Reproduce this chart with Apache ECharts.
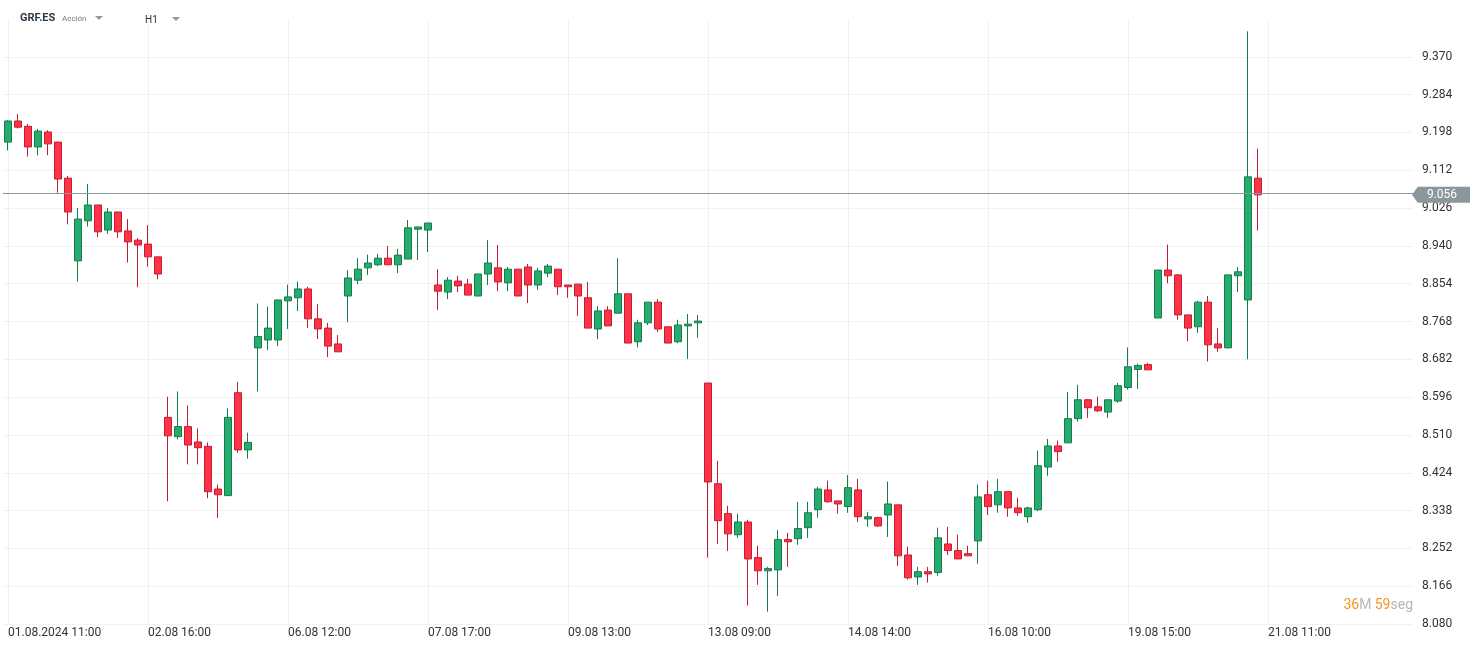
<!DOCTYPE html>
<html>
<head>
<meta charset="utf-8">
<script src="https://cdn.jsdelivr.net/npm/echarts@6/dist/echarts.min.js"></script>
<style>
  html, body { margin: 0; padding: 0; background: #fff; }
  #chart { width: 1482px; height: 649px; }
</style>
</head>
<body>
<div id="chart"></div>
<script>
// trading days and hourly sessions (H1 candles, 09:00 - 17:00)
const days = ['01.08.2024', '02.08.2024', '05.08.2024', '06.08.2024', '07.08.2024', '08.08.2024',
  '09.08.2024', '12.08.2024', '13.08.2024', '14.08.2024', '15.08.2024', '16.08.2024',
  '19.08.2024', '20.08.2024', '21.08.2024', '22.08.2024']
const hours = ['09:00', '10:00', '11:00', '12:00', '13:00', '14:00', '15:00', '16:00', '17:00']
const slotCount = 141

const opens = [9.176, 9.224, 9.212, 9.165, 9.199, 9.176, 9.094, 8.906, 8.997, 9.033,
  8.976, 9.017, 8.974, 8.953, 8.944, 8.915, 8.550, 8.506, 8.529, 8.494,
  8.484, 8.387, 8.372, 8.606, 8.476, 8.708, 8.726, 8.726, 8.815, 8.822,
  8.842, 8.774, 8.753, 8.717, 8.826, 8.862, 8.890, 8.897, 8.912, 8.897,
  8.910, 8.978, 8.976, 8.851, 8.835, 8.860, 8.853, 8.826, 8.876, 8.890,
  8.856, 8.887, 8.892, 8.851, 8.878, 8.887, 8.851, 8.853, 8.822, 8.751,
  8.794, 8.787, 8.831, 8.722, 8.765, 8.812, 8.756, 8.722, 8.758, 8.765,
  8.628, 8.399, 8.331, 8.283, 8.312, 8.231, 8.201, 8.203, 8.272, 8.274,
  8.299, 8.340, 8.385, 8.360, 8.347, 8.385, 8.319, 8.322, 8.328, 8.351,
  8.237, 8.187, 8.199, 8.197, 8.262, 8.247, 8.240, 8.269, 8.374, 8.351,
  8.381, 8.344, 8.324, 8.340, 8.437, 8.485, 8.492, 8.547, 8.590, 8.574,
  8.562, 8.587, 8.618, 8.659, 8.670, 8.776, 8.885, 8.874, 8.783, 8.756,
  8.812, 8.717, 8.708, 8.872, 8.817, 9.094]
const closes = [9.224, 9.210, 9.165, 9.201, 9.172, 9.092, 9.017, 9.001, 9.033, 8.972,
  9.017, 8.972, 8.949, 8.942, 8.915, 8.876, 8.508, 8.529, 8.487, 8.481,
  8.381, 8.374, 8.550, 8.476, 8.493, 8.734, 8.753, 8.817, 8.824, 8.842,
  8.774, 8.751, 8.712, 8.699, 8.867, 8.887, 8.901, 8.912, 8.897, 8.919,
  8.981, 8.983, 8.992, 8.837, 8.862, 8.849, 8.828, 8.876, 8.901, 8.858,
  8.887, 8.826, 8.851, 8.883, 8.894, 8.847, 8.847, 8.826, 8.753, 8.792,
  8.758, 8.831, 8.719, 8.765, 8.812, 8.751, 8.719, 8.760, 8.762, 8.769,
  8.403, 8.315, 8.285, 8.312, 8.228, 8.201, 8.206, 8.272, 8.267, 8.297,
  8.333, 8.387, 8.358, 8.353, 8.390, 8.324, 8.324, 8.303, 8.353, 8.235,
  8.185, 8.199, 8.194, 8.276, 8.247, 8.228, 8.235, 8.369, 8.347, 8.381,
  8.344, 8.333, 8.344, 8.440, 8.485, 8.472, 8.547, 8.590, 8.572, 8.565,
  8.590, 8.622, 8.665, 8.668, 8.658, 8.885, 8.872, 8.783, 8.753, 8.812,
  8.715, 8.708, 8.874, 8.881, 9.097, 9.056]
const lows = [9.157, 9.207, 9.143, 9.146, 9.146, 9.061, 8.989, 8.859, 8.984, 8.960,
  8.967, 8.958, 8.902, 8.846, 8.893, 8.864, 8.359, 8.500, 8.443, 8.443,
  8.366, 8.321, 8.372, 8.469, 8.456, 8.609, 8.703, 8.712, 8.751, 8.792,
  8.753, 8.728, 8.687, 8.699, 8.766, 8.853, 8.874, 8.894, 8.897, 8.878,
  8.910, 8.908, 8.926, 8.794, 8.819, 8.835, 8.828, 8.826, 8.851, 8.837,
  8.837, 8.826, 8.810, 8.840, 8.869, 8.828, 8.822, 8.781, 8.753, 8.728,
  8.758, 8.787, 8.719, 8.709, 8.760, 8.744, 8.719, 8.719, 8.683, 8.731,
  8.231, 8.262, 8.246, 8.276, 8.122, 8.169, 8.108, 8.144, 8.210, 8.260,
  8.276, 8.322, 8.356, 8.331, 8.333, 8.312, 8.301, 8.301, 8.278, 8.212,
  8.181, 8.169, 8.174, 8.190, 8.237, 8.228, 8.235, 8.217, 8.328, 8.333,
  8.324, 8.326, 8.310, 8.337, 8.417, 8.449, 8.492, 8.540, 8.549, 8.562,
  8.549, 8.583, 8.613, 8.615, 8.658, 8.776, 8.855, 8.772, 8.723, 8.742,
  8.677, 8.699, 8.708, 8.835, 8.682, 8.975]
const highs = [9.226, 9.240, 9.217, 9.206, 9.203, 9.176, 9.099, 9.026, 9.081, 9.033,
  9.026, 9.017, 9.001, 8.958, 8.987, 8.915, 8.597, 8.609, 8.577, 8.525,
  8.493, 8.397, 8.570, 8.631, 8.515, 8.809, 8.802, 8.817, 8.852, 8.859,
  8.847, 8.808, 8.765, 8.737, 8.885, 8.912, 8.920, 8.922, 8.940, 8.933,
  8.999, 8.983, 8.992, 8.887, 8.869, 8.872, 8.865, 8.876, 8.953, 8.942,
  8.892, 8.887, 8.899, 8.890, 8.899, 8.887, 8.851, 8.853, 8.858, 8.803,
  8.803, 8.912, 8.831, 8.772, 8.812, 8.819, 8.756, 8.772, 8.785, 8.783,
  8.628, 8.451, 8.349, 8.331, 8.317, 8.258, 8.210, 8.294, 8.287, 8.358,
  8.358, 8.392, 8.406, 8.360, 8.419, 8.410, 8.335, 8.324, 8.404, 8.351,
  8.256, 8.210, 8.210, 8.299, 8.301, 8.283, 8.258, 8.397, 8.406, 8.410,
  8.381, 8.367, 8.347, 8.474, 8.501, 8.497, 8.608, 8.624, 8.592, 8.597,
  8.590, 8.628, 8.709, 8.672, 8.674, 8.885, 8.943, 8.876, 8.783, 8.815,
  8.826, 8.753, 8.874, 8.892, 9.428, 9.161]
const lastPrice = 9.056
const yTicks = { min: 8.080, max: 9.456, step: 0.086 }

// first candle is 01.08 11:00, so skip the two first hours of that day
const categories = []
days.forEach(d => hours.forEach(h => categories.push(d + ' ' + h)))
const cats = categories.slice(2, 2 + slotCount)

const candles = opens.map((o, i) => [o, closes[i], lows[i], highs[i]])

const showTick = (i) => i % 14 === 0 && i <= 126
const gridColors = []
for (let v = yTicks.min; v < yTicks.max - 0.001; v += yTicks.step) gridColors.push('#f1f1f1')
gridColors.push('rgba(0,0,0,0)')

const chart = echarts.init(document.getElementById('chart'))
chart.setOption({
  animation: false,
  textStyle: { fontFamily: 'Roboto, sans-serif' },
  grid: { left: 3, right: 69, top: 19, bottom: 25 },
  xAxis: {
    type: 'category',
    data: cats,
    boundaryGap: true,
    axisLine: { show: false },
    axisTick: { show: false },
    axisLabel: {
      interval: showTick,
      align: 'left',
      margin: 3,
      color: '#333',
      fontSize: 12,
      formatter: (v, i) => i === 0 ? v : v.slice(0, 5) + v.slice(10)
    },
    splitLine: {
      show: true,
      interval: showTick,
      alignWithLabel: true,
      lineStyle: { color: '#f1f1f1', width: 1 }
    }
  },
  yAxis: {
    type: 'value',
    position: 'right',
    min: yTicks.min,
    max: yTicks.max,
    interval: yTicks.step,
    axisLine: { show: false },
    axisTick: { show: false },
    axisLabel: {
      showMaxLabel: false,
      margin: 9,
      color: '#333',
      fontSize: 12,
      formatter: v => v.toFixed(3)
    },
    splitLine: { lineStyle: { color: gridColors, width: 1 } }
  },
  series: [{
    type: 'candlestick',
    data: candles,
    barWidth: 7,
    clip: false,
    itemStyle: {
      color: '#25ad70',
      color0: '#ff3347',
      borderColor: '#167a4b',
      borderColor0: '#c41d31',
      borderWidth: 1
    },
    markLine: {
      silent: true,
      symbol: ['none', 'none'],
      lineStyle: { color: '#8c979c', width: 1, type: 'solid' },
      label: { show: false },
      data: [{ yAxis: lastPrice }]
    },
    markPoint: {
      silent: true,
      symbol: 'path://M0,8 L6,0 L60,0 L60,16 L6,16 Z',
      symbolSize: [58, 16],
      symbolOffset: [33, 0],
      itemStyle: { color: '#8c979c' },
      label: {
        show: true,
        color: '#fff',
        fontSize: 12,
        offset: [1, 0],
        formatter: () => lastPrice.toFixed(3)
      },
      data: [{ coord: [slotCount - 1, lastPrice] }]
    }
  }],
  graphic: [
    { type: 'text', left: 20, top: 13, style: { text: 'GRF.ES', fontSize: 11, fontWeight: 'bold', fill: '#2c3a47', fontFamily: 'Roboto' } },
    { type: 'text', left: 62, top: 15, style: { text: 'Acción', fontSize: 8, fill: '#777', fontFamily: 'Roboto' } },
    { type: 'polygon', shape: { points: [[95, 16], [103, 16], [99, 20]] }, style: { fill: '#999' } },
    { type: 'text', left: 145, top: 15, style: { text: 'H1', fontSize: 10, fill: '#333', fontFamily: 'Roboto' } },
    { type: 'polygon', shape: { points: [[172, 17], [180, 17], [176, 21]] }, style: { fill: '#999' } },
    {
      type: 'text', right: 69, top: 598,
      style: {
        text: '{n|36}{u|M} {n|59}{u|seg}',
        rich: {
          n: { fontSize: 14, fill: '#f7941d', fontFamily: 'Roboto' },
          u: { fontSize: 14, fill: '#b5b5b5', fontFamily: 'Roboto' }
        }
      }
    }
  ]
})
</script>
</body>
</html>
